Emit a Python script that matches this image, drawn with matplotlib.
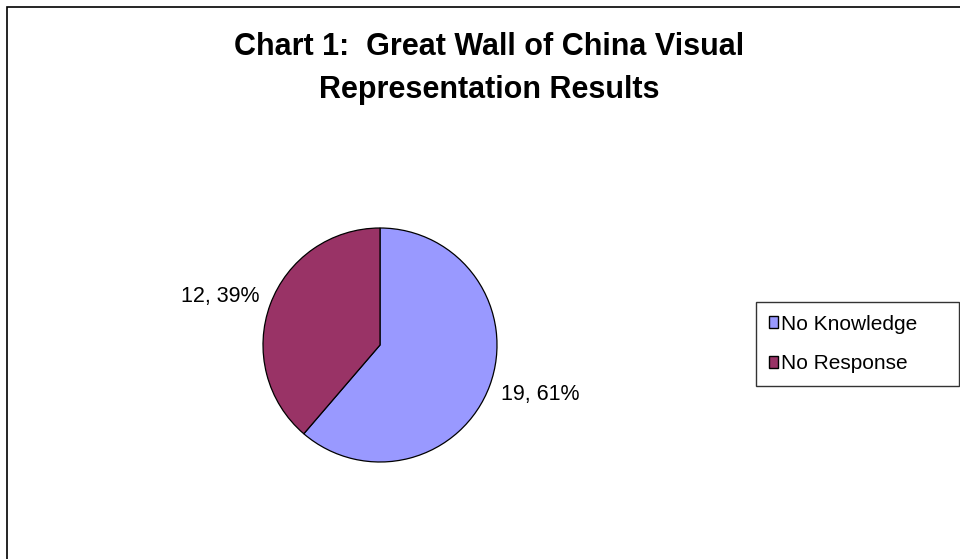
import matplotlib
matplotlib.use("Agg")
import matplotlib.pyplot as plt
from matplotlib.patches import Rectangle
from matplotlib.transforms import offset_copy

categories = ["No Knowledge", "No Response"]
values = [19, 12]
colors = ["#9999FF", "#993366"]
title_lines = ["Chart 1:  Great Wall of China Visual", "Representation Results"]

plt.rcParams['font.family'] = ['Liberation Sans', 'DejaVu Sans']

W, H = 960, 559
fig = plt.figure(figsize=(W / 100, H / 100), dpi=100)
fig.patch.set_facecolor("white")

# outer border (right and bottom edges fall outside the image)
fig.patches.append(Rectangle((7 / W, -10 / H), (W + 20) / W, (H + 3) / H, transform=fig.transFigure,
                             fill=False, edgecolor="black", linewidth=1.2))

cx, cy, r = 380, 345, 117
ax = fig.add_axes([(cx - r) / W, (H - cy - r) / H, 2 * r / W, 2 * r / H])
total = sum(values)
labels = [f"{v}, {round(100 * v / total)}%" for v in values]
wedges, texts = ax.pie(values, colors=colors, startangle=90, counterclock=False,
                       labels=labels, labeldistance=1.1,
                       wedgeprops=dict(edgecolor="black", linewidth=0.9),
                       textprops=dict(fontsize=15.5, color="black"))
for t in texts:
    dy = 4 if t.get_position()[1] > 0 else -5
    t.set_transform(offset_copy(ax.transData, fig=fig, x=0, y=dy * 0.72, units="points"))
ax.set_xlim(-1, 1)
ax.set_ylim(-1, 1)
ax.set_aspect("equal")
ax.axis("off")

fig.text(489 / W, 1 - 47 / H, title_lines[0], ha="center", va="center", fontsize=22, fontweight="bold")
fig.text(489 / W, 1 - 90 / H, title_lines[1], ha="center", va="center", fontsize=22, fontweight="bold")

leg = fig.legend(wedges, categories, loc="upper left",
                 bbox_to_anchor=(756 / W, 1 - 387 / H, 203 / W, 85 / H), mode="expand",
                 fontsize=15, frameon=True, fancybox=False, edgecolor="black",
                 handlelength=0.45, handleheight=0.45, handletextpad=0.15, borderpad=0.6,
                 labelspacing=1.0, borderaxespad=0)
leg.get_frame().set_linewidth(1.0)
for h in leg.legend_handles:
    h.set_edgecolor("black")
    h.set_linewidth(1.0)

fig.savefig("out.png", dpi=100, facecolor="white")
